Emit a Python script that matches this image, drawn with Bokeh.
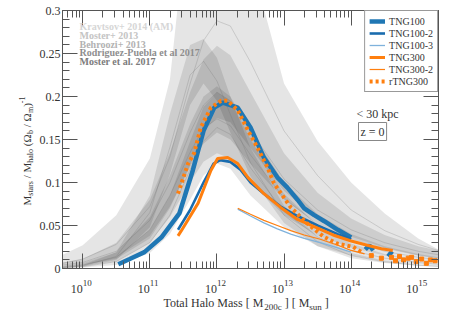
import math
from bokeh.plotting import figure
from bokeh.layouts import row, column
from bokeh.models import (FixedTicker, LogAxis, LinearAxis, Label, Legend, LegendItem)
from bokeh.embed import file_html
from bokeh.resources import INLINE

# ---------------- data (log10 of M200c [Msun], Mstar/Mhalo/(Ob/Om)) ----------------
logm_grid = [9.7, 10.0, 10.5, 11.0, 11.3, 11.6, 11.8, 12.0, 12.2, 12.5, 13.0, 13.5, 14.0, 14.5, 15.0, 15.3]

kravtsov_hi  = [0.016, 0.027, 0.062, 0.128, 0.22, 0.44, 0.5, 0.52, 0.5, 0.36, 0.215, 0.148, 0.1, 0.064, 0.035, 0.022]
kravtsov_mid = [0.006, 0.011, 0.028, 0.072, 0.13, 0.215, 0.265, 0.288, 0.282, 0.24, 0.16, 0.108, 0.068, 0.044, 0.028, 0.021]
kravtsov_lo  = [0.002, 0.004, 0.011, 0.035, 0.07, 0.12, 0.16, 0.175, 0.17, 0.14, 0.09, 0.058, 0.037, 0.024, 0.015, 0.011]

moster13_hi  = [0.0015, 0.004, 0.019, 0.085, 0.18, 0.26, 0.267, 0.245, 0.2, 0.14, 0.073, 0.037, 0.018, 0.009, 0.0046, 0.003]
moster13_mid = [0.0011, 0.003, 0.014, 0.065, 0.141, 0.225, 0.241, 0.218, 0.179, 0.123, 0.062, 0.031, 0.015, 0.0076, 0.0038, 0.0025]
moster13_lo  = [0.0008, 0.002, 0.01, 0.048, 0.11, 0.19, 0.215, 0.195, 0.158, 0.107, 0.053, 0.026, 0.012, 0.0063, 0.0031, 0.002]

behroozi_hi  = [0.007, 0.011, 0.03, 0.08, 0.135, 0.205, 0.243, 0.259, 0.248, 0.205, 0.134, 0.088, 0.058, 0.039, 0.026, 0.021]
behroozi_mid = [0.004, 0.007, 0.02, 0.056, 0.1, 0.158, 0.19, 0.205, 0.195, 0.16, 0.104, 0.068, 0.045, 0.03, 0.02, 0.016]
behroozi_lo  = [0.002, 0.004, 0.013, 0.038, 0.072, 0.118, 0.145, 0.158, 0.15, 0.122, 0.08, 0.052, 0.034, 0.023, 0.015, 0.012]

rp17_hi  = [0.003, 0.006, 0.019, 0.06, 0.108, 0.168, 0.2, 0.212, 0.2, 0.16, 0.1, 0.063, 0.04, 0.026, 0.017, 0.013]
rp17_mid = [0.002, 0.004, 0.013, 0.045, 0.085, 0.135, 0.163, 0.174, 0.166, 0.132, 0.082, 0.051, 0.032, 0.02, 0.013, 0.01]
rp17_lo  = [0.001, 0.0025, 0.008, 0.03, 0.06, 0.1, 0.124, 0.134, 0.128, 0.1, 0.062, 0.038, 0.024, 0.015, 0.009, 0.007]

moster17_hi  = [0.002, 0.004, 0.013, 0.045, 0.085, 0.148, 0.188, 0.205, 0.195, 0.15, 0.087, 0.05, 0.029, 0.017, 0.01, 0.007]
moster17_mid = [0.001, 0.002, 0.008, 0.03, 0.062, 0.115, 0.148, 0.164, 0.156, 0.117, 0.066, 0.037, 0.021, 0.012, 0.007, 0.005]
moster17_lo  = [0.0005, 0.0012, 0.004, 0.018, 0.04, 0.08, 0.108, 0.122, 0.116, 0.085, 0.048, 0.026, 0.015, 0.008, 0.005, 0.003]

tng100_logm = [10.53, 10.7, 10.92, 11.17, 11.44, 11.64, 11.8, 11.96, 12.09, 12.31, 12.5, 12.7, 12.9, 13.05,
               13.2, 13.3, 13.45, 13.6, 13.8, 14.0]
tng100_val = [0.005, 0.011, 0.019, 0.036, 0.064, 0.114, 0.16, 0.187, 0.193, 0.187, 0.164, 0.129, 0.106, 0.094,
              0.08, 0.07, 0.062, 0.055, 0.045, 0.036]
tng100_tail1_logm = [14.21, 14.27, 14.33]
tng100_tail1_val = [0.022, 0.027, 0.021]
tng100_tail2_logm = [14.55, 14.61]
tng100_tail2_val = [0.014, 0.02]

tng100_2_logm = [11.42, 11.6, 11.8, 11.95, 12.05, 12.2, 12.35, 12.5, 12.7, 12.95, 13.2, 13.5, 13.8, 14.0]
tng100_2_val = [0.045, 0.068, 0.1, 0.122, 0.126, 0.124, 0.115, 0.1, 0.087, 0.072, 0.061, 0.05, 0.04, 0.034]

tng100_3_logm = [12.31, 12.5, 12.7, 12.9, 13.1, 13.3, 13.54, 13.8, 14.0]
tng100_3_val = [0.069, 0.061, 0.053, 0.046, 0.04, 0.035, 0.03, 0.024, 0.019]

tng300_logm = [11.42, 11.47, 11.72, 11.91, 12.01, 12.16, 12.31, 12.46, 12.7, 12.95, 13.2, 13.44, 13.73, 14.0, 14.24, 14.45, 14.62]
tng300_val = [0.038, 0.044, 0.076, 0.114, 0.128, 0.129, 0.122, 0.106, 0.087, 0.071, 0.057, 0.049, 0.039, 0.032, 0.027, 0.023, 0.021]

tng300_2_logm = [12.31, 12.5, 12.7, 12.9, 13.1, 13.3, 13.54, 13.8, 14.0, 14.2]
tng300_2_val = [0.070, 0.063, 0.056, 0.05, 0.044, 0.039, 0.034, 0.027, 0.021, 0.017]

rtng300_logm = [11.42, 11.57, 11.66, 11.76, 11.91, 12.06, 12.16, 12.31, 12.46, 12.6, 12.75, 12.85, 13.1, 13.35, 13.59, 13.79, 14.03, 14.18]
rtng300_val = [0.087, 0.122, 0.134, 0.164, 0.187, 0.195, 0.195, 0.184, 0.161, 0.141, 0.118, 0.099, 0.071, 0.052, 0.037, 0.029, 0.025, 0.018]

rtng300_pts_logm = [14.3, 14.45, 14.6, 14.66, 14.72, 14.78, 14.85, 14.9, 14.97, 15.05, 15.12, 15.18, 15.25]
rtng300_pts_val = [0.015, 0.012, 0.013, 0.009, 0.014, 0.01, 0.012, 0.013, 0.008, 0.011, 0.006, 0.01, 0.009]

model_names = ["Kravtsov+ 2014 (AM)", "Moster+ 2013", "Behroozi+ 2013", "Rodriguez-Puebla et al 2017", "Moster et al. 2017"]
model_text_colors = ["#d6d6d6", "#c4c4c4", "#b2b2b2", "#8e8e8e", "#7c7c7c"]

x_major = [1e10, 1e11, 1e12, 1e13, 1e14, 1e15]
y_major = [0, 0.05, 0.1, 0.15, 0.2, 0.25, 0.3]

# ---------------- layout geometry (page pixels) ----------------
FONT = "Liberation Serif"
TXT = "#333333"
PW, PH = 452, 313          # page
YLW = 36                   # width of the y-label strip
MAIN_H = 276               # height of main figure
FL, FR, FT, FB = 61, 438, 10, 268   # frame edges in page pixels

def to_m(lst):
    return [10 ** v for v in lst]

p = figure(width=PW - YLW, height=MAIN_H, x_axis_type="log", x_range=(5e9, 2e15), y_range=(0, 0.3),
           output_backend="svg", toolbar_location=None,
           min_border_left=FL - YLW, min_border_right=PW - FR, min_border_top=FT,
           min_border_bottom=MAIN_H - FB)
p.xgrid.visible = False
p.ygrid.visible = False
p.outline_line_color = "#555555"
p.outline_line_width = 1
p.background_fill_color = "white"
p.border_fill_color = "white"

x_minor = []
for d in range(9, 16):
    for k in range(2, 10):
        x_minor.append(k * 10 ** d)
y_minor = [i / 100 for i in range(0, 31)]

def style_axis(ax, labels=True, ticks=None):
    ax.axis_line_color = None
    ax.major_tick_in = 15
    ax.major_tick_out = 0
    ax.minor_tick_in = 7
    ax.minor_tick_out = 0
    ax.major_tick_line_color = "#555555"
    ax.minor_tick_line_color = "#555555"
    ax.major_tick_line_width = 1
    ax.minor_tick_line_width = 1
    ax.major_label_text_font = FONT
    ax.major_label_text_font_size = "12px"
    ax.major_label_text_color = TXT
    if labels:
        ax.major_label_standoff = 2
    else:
        ax.major_label_overrides = {t: "" for t in ticks}
        ax.major_label_standoff = 0

p.xaxis.ticker = FixedTicker(ticks=x_major, minor_ticks=x_minor)
p.yaxis.ticker = FixedTicker(ticks=y_major, minor_ticks=y_minor)
style_axis(p.xaxis[0], labels=False, ticks=x_major)
style_axis(p.yaxis[0], labels=True)
top = LogAxis(ticker=FixedTicker(ticks=x_major, minor_ticks=x_minor))
style_axis(top, labels=False, ticks=x_major)
p.add_layout(top, "above")
right = LinearAxis(ticker=FixedTicker(ticks=y_major, minor_ticks=y_minor))
style_axis(right, labels=False, ticks=y_major)
p.add_layout(right, "right")

# ---------------- literature bands ----------------
gm = to_m(logm_grid)
bands = [(kravtsov_lo, kravtsov_mid, kravtsov_hi),
         (moster13_lo, moster13_mid, moster13_hi),
         (behroozi_lo, behroozi_mid, behroozi_hi),
         (rp17_lo, rp17_mid, rp17_hi),
         (moster17_lo, moster17_mid, moster17_hi)]
for lo, mid, hi in bands:
    p.varea(x=gm, y1=lo, y2=hi, fill_color="black", fill_alpha=0.1)
for lo, mid, hi in bands:
    p.line(gm, mid, line_color="#707070", line_width=0.7, line_alpha=0.35)

# ---------------- TNG lines ----------------
BLUE = "#1f77b4"
BLUE2 = "#1a6cae"
BLUE3 = "#7fb2dc"
ORANGE = "#ff7f0e"

r1 = p.line(to_m(tng100_logm), tng100_val, line_color=BLUE, line_width=4.5)
p.line(to_m(tng100_tail1_logm), tng100_tail1_val, line_color=BLUE, line_width=4.5)
p.line(to_m(tng100_tail2_logm), tng100_tail2_val, line_color=BLUE, line_width=4.5)
r2 = p.line(to_m(tng100_2_logm), tng100_2_val, line_color=BLUE2, line_width=2.6)
r3 = p.line(to_m(tng100_3_logm), tng100_3_val, line_color=BLUE3, line_width=1.3)
r4 = p.line(to_m(tng300_logm), tng300_val, line_color=ORANGE, line_width=3)
r5 = p.line(to_m(tng300_2_logm), tng300_2_val, line_color=ORANGE, line_width=1.2)
r6 = p.line(to_m(rtng300_logm), rtng300_val, line_color=ORANGE, line_width=4, line_dash="3 3")
p.scatter(to_m(rtng300_pts_logm), rtng300_pts_val, marker="square", size=4, color=ORANGE)

legend = Legend(items=[LegendItem(label="TNG100", renderers=[r1]),
                       LegendItem(label="TNG100-2", renderers=[r2]),
                       LegendItem(label="TNG100-3", renderers=[r3]),
                       LegendItem(label="TNG300", renderers=[r4]),
                       LegendItem(label="TNG300-2", renderers=[r5]),
                       LegendItem(label="rTNG300", renderers=[r6])],
                location="top_right")
legend.label_text_font = FONT
legend.label_text_font_size = "10px"
legend.label_text_color = TXT
legend.border_line_color = "#333333"
legend.border_line_width = 1
legend.background_fill_color = "white"
legend.background_fill_alpha = 1
legend.glyph_width = 16
legend.glyph_height = 12
legend.label_height = 12
legend.label_standoff = 4
legend.spacing = 0
legend.padding = 4
legend.margin = 0
p.add_layout(legend)

# ---------------- label strips ----------------
def strip(width, height, x_range=(0, 1), log=False):
    f = figure(width=width, height=height, x_range=x_range, y_range=(0, 1),
               x_axis_type="log" if log else "linear",
               output_backend="svg", toolbar_location=None,
               x_axis_location=None, y_axis_location=None, min_border=0)
    f.grid.visible = False
    f.outline_line_color = None
    f.background_fill_color = "white"
    f.border_fill_color = "white"
    return f

ylab = strip(YLW, PH)
xlab = strip(PW - YLW, PH - MAIN_H, x_range=p.x_range, log=True)
xlab.min_border_left = FL - YLW
xlab.min_border_right = PW - FR

CW = {'T': .611, 'o': .5, 't': .278, 'a': .444, 'l': .278, ' ': .25, 'H': .722, 'M': .889, 's': .389,
      '[': .333, ']': .333, '2': .5, '0': .5, 'c': .444, 'u': .5, 'n': .5, 'r': .333, '/': .278,
      'h': .5, '(': .333, ')': .333, 'Ω': .768, 'b': .5, 'm': .778, '-': .333, '1': .5, '−': .564}

def tw(s, size):
    return sum(CW.get(ch, 0.5) for ch in s) * size

# target -> (frame left in page px, frame bottom in page px)
ORIG = {id(p): (FL, FB), id(ylab): (0, PH), id(xlab): (FL, PH)}

def lab(fig, px, py, text, size, angle=0.0, color=TXT, bold=False, align="left", baseline="alphabetic"):
    ox, oy = ORIG[id(fig)]
    fig.add_layout(Label(x=px - ox, y=oy - py, x_units="screen", y_units="screen", text=text,
                         text_font=FONT, text_font_size=f"{size}px", text_color=color,
                         text_font_style="bold" if bold else "normal", angle=angle,
                         text_align=align, text_baseline=baseline))

def run(fig, segments, x0, y0, vertical=False):
    pos = 0.0
    for text, size, shift in segments:
        core = text.strip()
        lead = len(text) - len(text.lstrip())
        trail = len(text) - len(text.rstrip())
        pos += lead * CW[' '] * size
        if vertical:
            lab(fig, x0 + shift, y0 - pos, core, size, angle=math.pi / 2)
        else:
            lab(fig, x0 + pos, y0 + shift, core, size)
        pos += tw(core, size) + trail * CW[' '] * size

run(xlab, [("Total Halo Mass [ M", 12, 0), ("200c", 9, 4), (" ] [ M", 12, 0), ("sun", 9, 4), (" ]", 12, 0)],
    162, 302)
run(ylab, [("M", 11, 0), ("stars", 8, 4), (" / M", 11, 0), ("halo", 8, 4), (" (Ω", 11, 0), ("b", 8, 4),
           (" / Ω", 11, 0), ("m", 8, 4), (")", 11, 0), ("-1", 8, -5)], 26, 205, vertical=True)

# x tick labels 10^n
for v in x_major:
    xlab.add_layout(Label(x=v, y=PH - 288, x_units="data", y_units="screen", text="10",
                          text_font=FONT, text_font_size="12px", text_color=TXT,
                          text_align="right", text_baseline="alphabetic"))
    xlab.add_layout(Label(x=v, y=PH - 282, x_units="data", y_units="screen",
                          text=str(int(round(math.log10(v)))),
                          text_font=FONT, text_font_size="9px", text_color=TXT,
                          text_align="left", text_baseline="alphabetic"))

# literature model names
for i, (name, col) in enumerate(zip(model_names, model_text_colors)):
    lab(p, 78, 26 + 8.75 * i, name, 10, color=col, bold=True, baseline="middle")

lab(p, 355, 113, "< 30 kpc", 12, baseline="middle")
p.add_layout(Label(x=357 - FL, y=FB - 131, x_units="screen", y_units="screen", text="z = 0",
                   text_font=FONT, text_font_size="12px", text_color=TXT, text_baseline="middle",
                   border_line_color="#888888", border_line_width=1, background_fill_color="white",
                   padding=2))

layout = row(ylab, column(p, xlab, spacing=0), spacing=0)
open("out.html", "w").write(file_html(layout, INLINE))
